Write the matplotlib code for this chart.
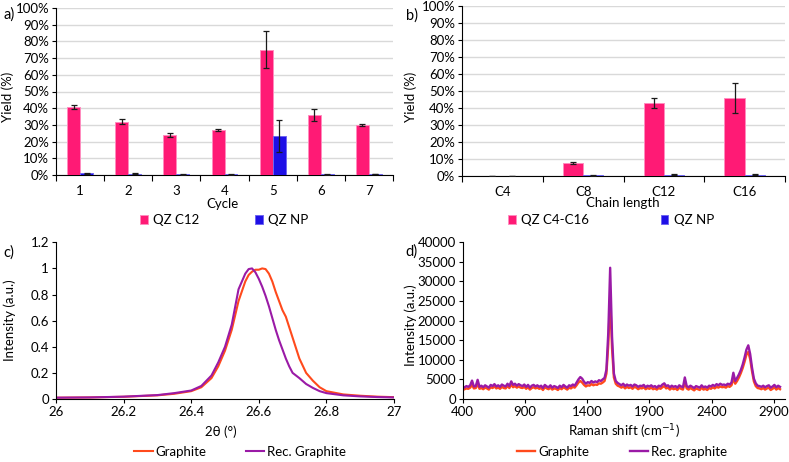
import numpy as np
import matplotlib.pyplot as plt
from matplotlib.ticker import FuncFormatter

plt.rcParams['font.family'] = ['Lato', 'DejaVu Sans']
plt.rcParams['font.size'] = 9

# a) recycling yields
cycles = ['1', '2', '3', '4', '5', '6', '7']
qz_c12 = [41, 32, 24, 27, 75, 36, 30]
qz_c12_err = [1.2, 1.3, 1.0, 0.8, 11.0, 3.8, 0.7]
qz_np_a = [1.0, 0.8, 0.3, 0.4, 23.5, 0.5, 0.8]
qz_np_a_err = [0.3, 0.4, 0.2, 0.2, 9.5, 0.3, 0.0]

# b) chain length
chains = ['C4', 'C8', 'C12', 'C16']
qz_c4_16 = [0, 7.5, 43, 46]
qz_c4_16_err = [0, 0.5, 3.0, 9.0]
qz_np_b = [0, 0.3, 0.8, 0.7]
qz_np_b_err = [0, 0.2, 0.2, 0.2]

# c) XRD (002) peak
xrd_2theta = [26.0, 26.1, 26.2, 26.3, 26.35, 26.4, 26.43, 26.46, 26.48, 26.5,
              26.52, 26.54, 26.56, 26.57, 26.58, 26.59, 26.6, 26.61, 26.62, 26.63,
              26.64, 26.65, 26.66, 26.67, 26.68, 26.69, 26.7, 26.72, 26.74, 26.76,
              26.78, 26.8, 26.85, 26.9, 26.95, 27.0]
xrd_graphite = [0.010, 0.012, 0.017, 0.028, 0.040, 0.060, 0.09, 0.16, 0.25, 0.37,
                0.53, 0.75, 0.90, 0.95, 0.975, 0.99, 0.99, 1.0, 0.995, 0.96,
                0.90, 0.82, 0.75, 0.68, 0.63, 0.55, 0.47, 0.31, 0.20, 0.14,
                0.09, 0.06, 0.035, 0.025, 0.018, 0.014]
xrd_rec = [0.010, 0.012, 0.018, 0.030, 0.045, 0.065, 0.10, 0.18, 0.28, 0.40,
           0.57, 0.84, 0.96, 0.995, 1.0, 0.97, 0.92, 0.86, 0.79, 0.71,
           0.62, 0.53, 0.45, 0.38, 0.31, 0.25, 0.20, 0.16, 0.115, 0.085,
           0.06, 0.045, 0.028, 0.020, 0.015, 0.012]
xrd_ticklabels = ['0', '0.2', '0.4', '0.6', '0.8', '1', '1.2']

# d) Raman spectra, sampled every 15 cm-1 from 415 to 2950
raman_shift = np.arange(415, 2951, 15)
raman_rec = [3000, 3300, 3100, 3500, 4700, 3200, 3300, 4900, 3100, 3400,
             3000, 3500, 3200, 2900, 3600, 3300, 3800, 3200, 3500, 3100,
             3700, 3400, 3200, 3900, 3300, 4500, 3600, 3900, 3400, 3800,
             3500, 3300, 3700, 3100, 3600, 2900, 3400, 3600, 3200, 3500,
             3100, 3400, 2800, 3600, 3200, 3000, 3500, 2900, 3300, 3100,
             2800, 3400, 3000, 3600, 3200, 2900, 3500, 3300, 3700, 3400,
             4200, 5000, 5600, 5200, 4400, 3900, 4300, 4100, 4600, 4200,
             4500, 4300, 4800, 4600, 5000, 5400, 7500, 17000, 33500, 16000,
             6500, 4600, 4100, 3800, 3500, 3900, 3300, 3700, 3400, 3600,
             3200, 3700, 3500, 3100, 3400, 3300, 3600, 3000, 3400, 3200,
             3500, 3100, 3300, 2900, 3400, 3200, 3700, 4000, 3300, 3500,
             3000, 3400, 3100, 3300, 2900, 3500, 3200, 3000, 5500, 3300,
             3000, 3400, 3100, 2800, 3300, 3100, 2900, 3500, 3000, 3200,
             2900, 3400, 3200, 3600, 3300, 3800, 3500, 3900, 3600, 3700,
             3500, 3900, 3700, 4200, 6700, 4600, 5400, 6300, 7400, 8800,
             10600, 12600, 13700, 11500, 8000, 5200, 4000, 3400, 3300, 3100,
             3400, 3000, 3300, 3500, 2900, 3200, 3600, 3000, 3400, 3100]
raman_graphite = [2500, 2700, 2600, 2900, 3600, 2700, 2800, 3800, 2600, 2800,
                  2500, 2900, 2700, 2400, 3000, 2800, 3200, 2700, 2900, 2600,
                  3100, 2800, 2700, 3300, 2800, 3700, 3000, 3300, 2900, 3200,
                  2900, 2800, 3100, 2600, 3000, 2400, 2800, 3000, 2700, 2900,
                  2600, 2800, 2300, 3000, 2700, 2500, 2900, 2400, 2700, 2600,
                  2300, 2800, 2500, 3000, 2700, 2400, 2900, 2700, 3100, 2900,
                  3500, 4200, 4600, 4200, 3600, 3200, 3500, 3400, 3800, 3500,
                  3700, 3600, 4000, 3900, 4200, 4600, 6500, 14000, 26000, 13000,
                  5500, 3900, 3400, 3200, 2900, 3200, 2700, 3100, 2800, 3000,
                  2600, 3100, 2900, 2500, 2800, 2700, 3000, 2500, 2800, 2600,
                  2900, 2500, 2700, 2400, 2800, 2600, 3000, 3300, 2700, 2900,
                  2400, 2800, 2500, 2700, 2300, 2900, 2600, 2400, 4300, 2700,
                  2400, 2800, 2500, 2200, 2700, 2500, 2300, 2900, 2400, 2600,
                  2300, 2800, 2600, 3000, 2700, 3100, 2900, 3200, 3000, 3100,
                  2900, 3300, 3100, 3500, 5200, 3900, 4600, 5500, 6600, 7900,
                  9500, 11300, 12000, 10200, 7100, 4500, 3300, 2800, 2700, 2500,
                  2800, 2400, 2700, 2900, 2300, 2600, 3000, 2400, 2800, 2500]

PINK = '#FF1A75'
PINK_EDGE = '#FF8CBF'
BLUE = '#1E0FE6'
BLUE_EDGE = '#6F66F0'
ORANGE = '#FF4A1C'
PURPLE = '#9A1AA6'
W, H = 789, 462


def px_axes(left, top, right, bottom):
    return fig.add_axes([left / W, 1 - bottom / H, (right - left) / W, (bottom - top) / H])


def px_text(x, y, s, **kw):
    fig.text(x / W, 1 - y / H, s, ha='center', va='center', **kw)


def base_style(ax):
    for s in ['top', 'right']:
        ax.spines[s].set_visible(False)
    for s in ['left', 'bottom']:
        ax.spines[s].set_color('black')
        ax.spines[s].set_linewidth(0.8)
    ax.tick_params(direction='out', length=3, width=0.8, labelsize=9.5, pad=2)


def bar_panel(ax, cats, v1, e1, v2, e2, width, lab1, lab2):
    x = np.arange(1, len(cats) + 1)
    ekw = dict(elinewidth=0.9, capthick=0.9, ecolor='#1a1a1a')
    ax.bar(x - width / 2, v1, width, yerr=e1, color=PINK, edgecolor=PINK_EDGE,
           linewidth=0.7, capsize=2, error_kw=ekw, label=lab1, zorder=3)
    ax.bar(x + width / 2, v2, width, yerr=e2, color=BLUE, edgecolor=BLUE_EDGE,
           linewidth=0.7, capsize=2, error_kw=ekw, label=lab2, zorder=3)
    ax.set_xlim(0.5, len(cats) + 0.5)
    ax.set_ylim(0, 100)
    ax.set_yticks(range(0, 101, 10))
    ax.yaxis.set_major_formatter(FuncFormatter(lambda v, p: f'{v:.0f}%'))
    ax.yaxis.grid(True, color='#D9D9D9', linewidth=1)
    ax.set_axisbelow(True)
    base_style(ax)
    ax.set_xticks(np.arange(0.5, len(cats) + 1, 1))
    ax.set_xticklabels([])
    ax.set_xticks(x, minor=True)
    ax.set_xticklabels(cats, minor=True)
    ax.tick_params(axis='x', which='major', length=4)
    ax.tick_params(axis='x', which='minor', length=0, pad=7, labelsize=9.5)


fig = plt.figure(figsize=(W / 100, H / 100), dpi=100)

# a)
ax_a = px_axes(56, 8, 393, 175)
bar_panel(ax_a, cycles, qz_c12, qz_c12_err, qz_np_a, qz_np_a_err, 0.27, 'QZ C12', 'QZ NP')
ax_a.legend(loc='center', bbox_to_anchor=(224 / W, 1 - 220 / H), bbox_transform=fig.transFigure,
            ncol=2, frameon=False, handlelength=0.6, handleheight=0.6, handletextpad=0.4,
            columnspacing=4.2, fontsize=9.5)

# b)
ax_b = px_axes(462, 6, 785, 176)
bar_panel(ax_b, chains, qz_c4_16, qz_c4_16_err, qz_np_b, qz_np_b_err, 0.25, 'QZ C4-C16', 'QZ NP')
ax_b.legend(loc='center', bbox_to_anchor=(611 / W, 1 - 220 / H), bbox_transform=fig.transFigure,
            ncol=2, frameon=False, handlelength=0.6, handleheight=0.6, handletextpad=0.4,
            columnspacing=5.4, fontsize=9.5)

# c)
ax_c = px_axes(56, 242.3, 394, 399)
ax_c.plot(xrd_2theta, xrd_graphite, color=ORANGE, lw=1.5, label='Graphite')
ax_c.plot(xrd_2theta, xrd_rec, color=PURPLE, lw=1.5, label='Rec. Graphite')
ax_c.set_xlim(26, 27)
ax_c.set_ylim(0, 1.2)
ax_c.set_xticks(np.arange(26, 27.01, 0.2))
ax_c.set_xticklabels(['26', '26.2', '26.4', '26.6', '26.8', '27'])
ax_c.set_yticks(np.arange(0, 1.21, 0.2))
ax_c.set_yticklabels(xrd_ticklabels)
base_style(ax_c)
ax_c.legend(loc='center', bbox_to_anchor=(240 / W, 1 - 452 / H), bbox_transform=fig.transFigure,
            ncol=2, frameon=False, handlelength=1.4, handletextpad=0.2,
            columnspacing=3.0, fontsize=9.5)

# d)
ax_d = px_axes(462.7, 242.3, 785, 399)
ax_d.plot(raman_shift, raman_graphite, color=ORANGE, lw=1.7, label='Graphite')
ax_d.plot(raman_shift, raman_rec, color=PURPLE, lw=1.7, label='Rec. graphite')
ax_d.set_xlim(400, 2990)
ax_d.set_ylim(0, 40000)
ax_d.set_xticks(range(400, 2901, 500))
ax_d.set_yticks(range(0, 40001, 5000))
base_style(ax_d)
ax_d.legend(loc='center', bbox_to_anchor=(622 / W, 1 - 452 / H), bbox_transform=fig.transFigure,
            ncol=2, frameon=False, handlelength=1.4, handletextpad=0.2,
            columnspacing=3.1, fontsize=9.5)

# labels
px_text(8, 97, 'Yield (%)', rotation=90, fontsize=9.5)
px_text(411, 97, 'Yield (%)', rotation=90, fontsize=9.5)
px_text(10, 320, 'Intensity (a.u.)', rotation=90, fontsize=9.5)
px_text(411, 325, 'Intensity (a.u.)', rotation=90, fontsize=9.5)
px_text(222, 204, 'Cycle', fontsize=9.5)
px_text(623, 203, 'Chain length', fontsize=9.5)
px_text(221, 432, '2θ (°)', fontsize=9.5)
px_text(624, 432, 'Raman shift (cm$^{-1}$)', fontsize=9.5)
px_text(9, 15, 'a)', fontsize=10.5)
px_text(412, 16, 'b)', fontsize=10.5)
px_text(9, 253, 'c)', fontsize=10.5)
px_text(411, 252, 'd)', fontsize=10.5)

fig.savefig('out.png', dpi=100)
